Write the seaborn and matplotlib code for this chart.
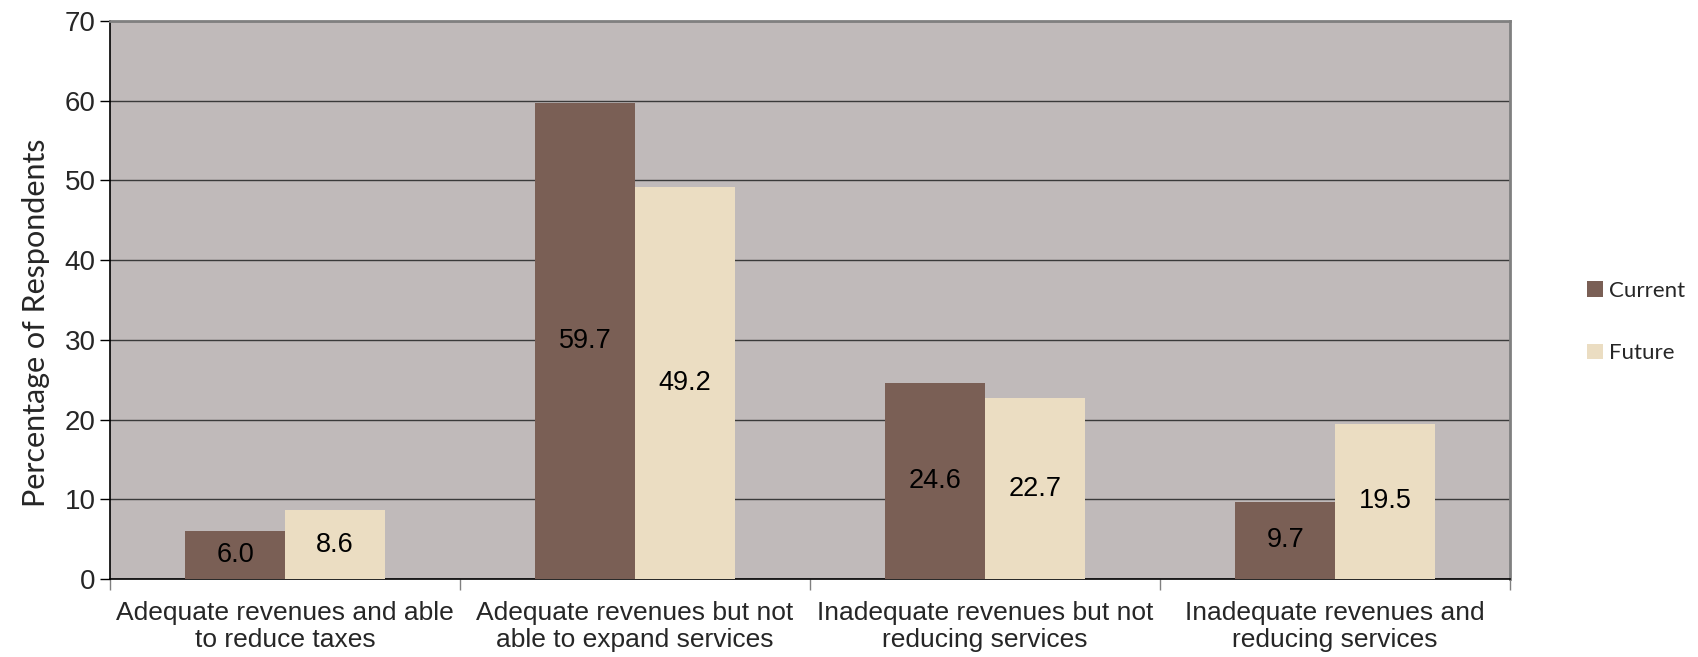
import pandas as pd
import numpy as np
import matplotlib.pyplot as plt
import seaborn as sns


categories = [
    'Adequate revenues and able\nto reduce taxes',
    'Adequate revenues but not\nable to expand services',
    'Inadequate revenues but not\nreducing services',
    'Inadequate revenues and\nreducing services',
]
current = [6.0, 59.7, 24.6, 9.7]
future = [8.6, 49.2, 22.7, 19.5]
series = ['Current', 'Future']
colors = ['#7A5F55', '#EBDDC2']

df = pd.DataFrame({
    'category': categories * 2,
    'value': current + future,
    'series': ['Current'] * len(categories) + ['Future'] * len(categories),
})

sns.set_style('white')
plt.rcParams['font.family'] = ['Liberation Sans', 'DejaVu Sans']

fig = plt.figure(figsize=(16.98, 6.57), dpi=100)
ax = fig.add_axes([110 / 1698, 1 - 579 / 657, 1400 / 1698, 558 / 657])
ax.set_facecolor('#C0BABA')

sns.barplot(data=df, x='category', y='value', hue='series', hue_order=series,
            palette=colors, width=0.57, saturation=1, ax=ax, legend=True,
            linewidth=0, zorder=3)

for cont in ax.containers:
    ax.bar_label(cont, fmt='%.1f', label_type='center', fontsize=19.5, color='black')

ax.set_ylim(0, 70)
ax.set_yticks(np.arange(0, 71, 10))
ax.set_xlim(-0.5, len(categories) - 0.5)
ax.yaxis.grid(True, color='#3a3a3a', linewidth=1, zorder=1)
ax.set_axisbelow(True)

# category boundaries as ticks, labels at centres
ax.set_xticks(np.arange(-0.5, len(categories), 1))
ax.set_xticklabels([])
ax.set_xticks(np.arange(len(categories)), minor=True)
ax.set_xticklabels(categories, minor=True, fontsize=19, linespacing=1.15)
ax.tick_params(axis='x', which='minor', length=0, pad=16)
ax.tick_params(axis='x', which='major', length=8, width=1, color='#808080', direction='out', bottom=True)
ax.tick_params(axis='y', length=7, width=1, color='black', direction='out', left=True, labelsize=20)

ax.set_xlabel('')
ax.set_ylabel('Percentage of Respondents', fontsize=22, family=['Lato', 'DejaVu Sans'])
ax.yaxis.set_label_coords(-0.043, 0.46)

for side in ['left', 'bottom']:
    ax.spines[side].set_color('black')
    ax.spines[side].set_linewidth(1.2)
for side in ['top', 'right']:
    ax.spines[side].set_visible(True)
    ax.spines[side].set_color('#808080')
    ax.spines[side].set_linewidth(2)

handles, labels = ax.get_legend_handles_labels()
ax.get_legend().remove()
fig.legend(handles, labels, loc='center left', bbox_to_anchor=(1567 / 1698, 1 - 322 / 657),
           frameon=False, prop={'family': ['Lato', 'DejaVu Sans'], 'size': 16},
           handlelength=0.7, handleheight=0.7, handletextpad=0.3, labelspacing=1.9)

fig.savefig('out.png', dpi=100)
